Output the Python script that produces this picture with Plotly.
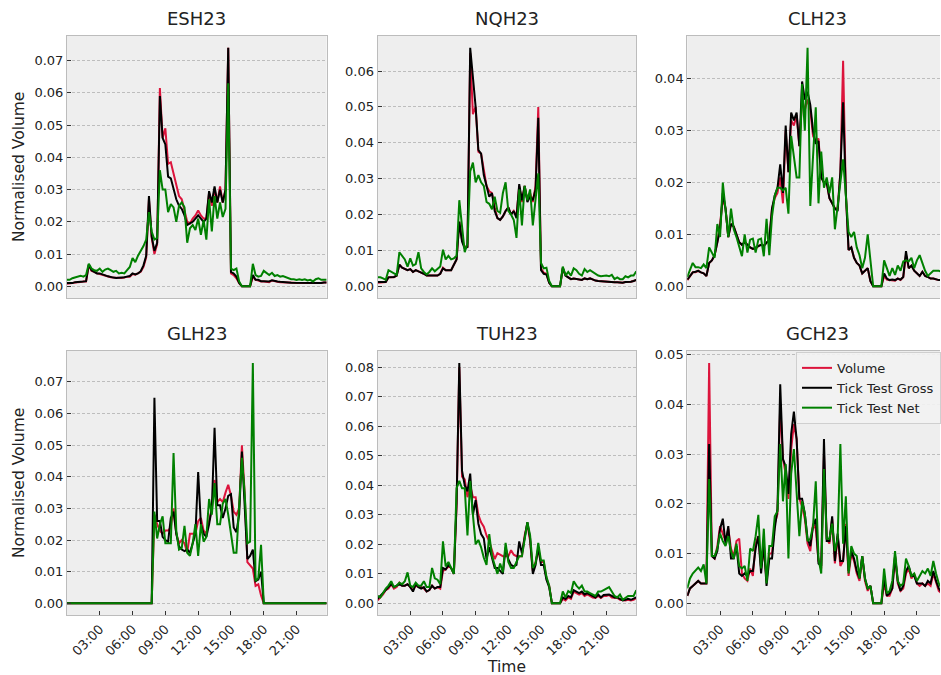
import pandas as pd
import plotly.graph_objects as go

# ---------------- data (15-minute bins, 00:00 .. 23:45) ----------------
times = pd.date_range("2023-01-02 00:00", periods=96, freq="15min")
tick_labels = ["03:00", "06:00", "09:00", "12:00", "15:00", "18:00", "21:00"]
contracts = ["ESH23", "NQH23", "CLH23", "GLH23", "TUH23", "GCH23"]
series_names = ["Volume", "Tick Test Gross", "Tick Test Net"]

ESH_volume = [.0008,.0008,.001,.0012,.0012,.0013,.0015,.0015,
              .0065,.0048,.0045,.004,.0038,.0035,.0033,.003,
              .0028,.0027,.0026,.0025,.0026,.0027,.003,.003,
              .0038,.0036,.004,.0045,.006,.009,.027,.015,
              .010,.013,.0615,.046,.049,.038,.0385,.035,
              .031,.028,.027,.023,.020,.0195,.021,.022,
              .0235,.022,.021,.021,.029,.025,.030,.026,
              .031,.026,.030,.074,.004,.0035,.0025,.001,
              0,0,0,0,.003,.002,.0018,.0015,
              .0015,.0013,.0013,.0018,.0015,.0014,.0013,.0013,
              .0012,.0012,.0011,.0011,.001,.001,.001,.0009,
              .0009,.0009,.0009,.0009,.001,.001,.0012,.0012]
ESH_gross = [.001,.001,.001,.0013,.0013,.0014,.0015,.0016,
             .0068,.005,.0045,.004,.004,.0036,.0034,.0031,
             .0028,.0027,.0026,.0026,.0027,.0028,.003,.0032,
             .004,.0037,.004,.0047,.0065,.0095,.028,.0155,
             .011,.0135,.059,.046,.044,.034,.0335,.030,
             .027,.025,.024,.022,.019,.0195,.020,.021,
             .022,.021,.020,.021,.0295,.026,.031,.026,
             .030,.026,.030,.074,.0045,.004,.003,.001,
             0,0,0,0,.0035,.002,.002,.0016,
             .0016,.0015,.0015,.0019,.0016,.0015,.0014,.0014,
             .0012,.0012,.0011,.0011,.001,.001,.001,.0009,
             .0009,.0009,.0009,.0009,.001,.001,.0012,.0012]
ESH_net = [.002,.002,.0025,.0028,.003,.0033,.003,.0035,
           .007,.0055,.005,.0048,.0055,.0045,.0052,.0055,
           .005,.0045,.0048,.004,.0042,.004,.005,.006,
           .0088,.0075,.0095,.011,.0125,.0145,.023,.017,
           .0145,.015,.036,.030,.030,.023,.0255,.0245,
           .020,.025,.026,.0245,.0135,.018,.019,.0175,
           .021,.016,.0205,.0145,.027,.017,.028,.021,
           .026,.0215,.024,.063,.0055,.005,.0055,.0015,
           0,0,0,0,.007,.0035,.003,.0032,
           .0048,.004,.0035,.0042,.0032,.0035,.003,.0032,
           .0028,.0025,.0022,.0022,.002,.0022,.002,.0022,
           .0018,.002,.0015,.0022,.0025,.002,.002,.002]

NQH_volume = [.001,.001,.001,.0012,.0025,.0025,.0025,.003,
              .006,.0052,.0048,.0045,.0048,.004,.0045,.0042,
              .0038,.0035,.003,.003,.0028,.003,.003,.0035,
              .0052,.0045,.0045,.0045,.006,.0075,.018,.013,
              .011,.011,.065,.048,.050,.0375,.037,.032,
              .028,.0265,.026,.022,.019,.0185,.0195,.021,
              .022,.020,.021,.0195,.028,.0235,.028,.024,
              .026,.0235,.028,.050,.005,.0038,.0035,.001,
              0,0,0,0,.005,.003,.0025,.002,
              .0022,.002,.0018,.0018,.0022,.002,.0022,.0018,
              .0016,.0015,.0014,.0014,.0013,.0012,.0012,.0011,
              .0011,.001,.001,.0012,.0012,.0013,.0015,.0018]
NQH_gross = [.0012,.0012,.0012,.0012,.0025,.0025,.0026,.003,
             .006,.0052,.0048,.0045,.0048,.004,.0045,.0042,
             .0038,.0035,.003,.003,.0028,.003,.003,.0035,
             .005,.0045,.0045,.0045,.006,.0075,.018,.0125,
             .0105,.011,.0665,.058,.050,.038,.037,.031,
             .028,.025,.026,.021,.019,.0185,.0195,.021,
             .022,.020,.021,.019,.0285,.024,.028,.0235,
             .025,.024,.027,.047,.0045,.0035,.0033,.001,
             0,0,0,0,.0052,.003,.0025,.002,
             .0022,.002,.0018,.0018,.0022,.002,.0022,.0018,
             .0016,.0015,.0014,.0014,.0013,.0012,.0012,.0011,
             .0011,.001,.001,.0012,.0012,.0013,.0015,.0018]
NQH_net = [.0025,.0025,.0022,.0018,.0045,.004,.0035,.0032,
           .0095,.0085,.0075,.0055,.0078,.0058,.0062,.0095,
           .005,.004,.0033,.004,.005,.0042,.005,.0055,
           .0102,.0075,.0085,.0075,.0078,.0085,.024,.016,
           .0095,.012,.032,.0345,.029,.031,.029,.028,
           .0235,.023,.0215,.025,.021,.0205,.026,.029,
           .021,.020,.0185,.0135,.027,.017,.028,.024,
           .027,.017,.025,.0315,.0065,.005,.0052,.0015,
           0,0,0,0,.0055,.003,.004,.003,
           .005,.0045,.0035,.003,.0048,.004,.0045,.004,
           .0035,.003,.0028,.003,.003,.0028,.0032,.002,
           .0025,.002,.002,.0028,.0025,.003,.003,.0042]

CLH_volume = [.0012,.002,.0027,.0027,.003,.0027,.0025,.002,
              .0045,.005,.006,.0085,.012,.017,.015,.0095,
              .012,.0115,.010,.0085,.008,.0085,.008,.0075,
              .0072,.0072,.0078,.008,.0078,.0085,.009,.015,
              .017,.018,.021,.016,.030,.022,.032,.031,
              .033,.027,.036,.034,.036,.034,.029,.028,
              .0285,.021,.020,.020,.017,.016,.015,.015,
              .022,.0435,.018,.007,.0075,.0055,.0045,.004,
              .0025,.003,.0035,.001,0,0,0,0,
              .002,.0013,.0012,.0012,.0011,.0015,.0012,.0018,
              .006,.0035,.004,.003,.0025,.002,.0028,.002,
              .0018,.0015,.0015,.0013,.0012,.0012,.0011,.0012]
CLH_gross = [.0013,.002,.0027,.0028,.003,.0027,.0025,.002,
             .0045,.005,.006,.0085,.011,.018,.015,.0095,
             .012,.0115,.010,.0085,.008,.0085,.008,.0075,
             .0072,.0075,.0078,.008,.0078,.0085,.009,.015,
             .0175,.019,.0235,.018,.031,.022,.0335,.032,
             .0335,.027,.0395,.036,.0375,.035,.030,.0275,
             .028,.021,.020,.020,.017,.016,.015,.0145,
             .022,.0355,.018,.007,.0075,.0055,.0045,.004,
             .0025,.003,.0035,.001,0,0,0,0,
             .0025,.0015,.0012,.0013,.0012,.0015,.0013,.0018,
             .0068,.0035,.004,.003,.0025,.002,.0028,.002,
             .0018,.0015,.0015,.0013,.0012,.0012,.0011,.0012]
CLH_net = [.0018,.003,.0045,.0037,.0037,.0035,.0042,.0035,
           .0075,.0065,.0055,.012,.0095,.020,.015,.0095,
           .015,.011,.0095,.0075,.0058,.010,.0065,.009,
           .0092,.0065,.009,.0092,.0058,.013,.006,.0135,
           .0175,.019,.019,.0185,.019,.014,.029,.025,
           .021,.021,.039,.030,.046,.0155,.025,.0345,
           .016,.026,.019,.021,.018,.021,.011,.016,
           .020,.0245,.018,.0105,.0095,.0105,.0075,.006,
           .0035,.0055,.010,.0055,0,0,0,0,
           .005,.0035,.002,.0035,.0022,.004,.003,.0048,
           .005,.0048,.0055,.0035,.005,.006,.0045,.003,
           .002,.0025,.003,.003,.003,.0028,.0025,.0025]

GLH_volume = [0] * 32 + [
              .028,.025,.023,.022,.023,.023,.024,.030,
              .022,.019,.020,.019,.016,.022,.022,.022,
              .026,.027,.023,.022,.026,.030,.039,.032,
              .033,.032,.035,.0375,.034,.029,.028,.030,
              .050,.035,.013,.012,.011,.0055,.006,.0025] + [0] * 24
GLH_gross = [0] * 32 + [
             .065,.026,.026,.021,.020,.0195,.027,.029,
             .022,.018,.017,.0165,.017,.016,.019,.022,
             .0415,.025,.022,.021,.025,.030,.0555,.031,
             .031,.027,.030,.034,.0345,.024,.0225,.028,
             .048,.033,.014,.015,.017,.007,.0075,.010] + [0] * 24
GLH_net = [0] * 32 + [
           .029,.0205,.025,.0275,.019,.019,.019,.0475,
           .023,.017,.0175,.0245,.016,.015,.019,.025,
           .015,.025,.0195,.021,.033,.028,.038,.025,
           .025,.0315,.033,.028,.022,.016,.016,.030,
           .046,.035,.019,.0195,.076,.007,.008,.0185] + [0] * 24

TUH_volume = [.001,.002,.003,.0045,.005,.0065,.005,.0055,
              .007,.006,.006,.0065,.0055,.0045,.006,.0055,
              .0055,.005,.004,.0045,.006,.005,.0055,.005,
              .011,.0115,.0125,.012,.010,.033,.080,.043,
              .042,.036,.040,.036,.036,.030,.0275,.026,
              .023,.021,.018,.015,.017,.0165,.016,.016,
              .016,.018,.0165,.016,.016,.016,.023,.027,
              .021,.011,.014,.018,.014,.014,.0085,.006,
              0,0,0,0,.0015,.001,.002,.0015,
              .004,.0035,.003,.0035,.0025,.003,.0025,.002,
              .0018,.0025,.0018,.0025,.0025,.0028,.002,.0018,
              .0018,.0012,.001,.001,.0012,.001,.0012,.0018]
TUH_gross = [.0015,.0025,.0035,.0045,.0055,.0065,.0055,.006,
             .0065,.006,.006,.0065,.0055,.004,.0065,.0055,
             .005,.0055,.004,.0045,.006,.005,.0055,.0055,
             .012,.0115,.013,.012,.010,.034,.0815,.045,
             .040,.038,.044,.030,.035,.027,.0235,.022,
             .015,.019,.015,.012,.012,.011,.010,.019,
             .015,.013,.0125,.013,.021,.017,.022,.0275,
             .022,.010,.013,.019,.013,.013,.008,.0055,
             0,0,0,0,.002,.0015,.0025,.002,
             .0045,.004,.0035,.004,.003,.0035,.003,.0025,
             .002,.003,.002,.0028,.003,.003,.0025,.002,
             .002,.0015,.001,.0012,.0015,.0012,.0015,.002]
TUH_net = [.0025,.002,.0035,.005,.006,.0075,.0055,.006,
           .007,.0065,.0075,.0105,.006,.0055,.007,.006,
           .006,.0075,.0055,.0055,.012,.0085,.008,.0065,
           .021,.0125,.014,.012,.010,.039,.0415,.039,
           .039,.023,.0415,.030,.020,.0215,.019,.0155,
           .013,.0235,.016,.013,.010,.0135,.0105,.0205,
           .014,.012,.012,.014,.016,.016,.022,.0275,
           .023,.012,.0135,.0205,.0145,.0145,.009,.006,
           0,0,0,0,.004,.002,.0042,.0035,
           .0075,.006,.005,.006,.004,.004,.0035,.003,
           .0025,.004,.004,.0045,.005,.0055,.004,.0025,
           .002,.003,.0012,.002,.0025,.0025,.0025,.0045]

GCH_volume = [.0015,.003,.0035,.004,.0045,.004,.004,.004,
              .0483,.0095,.009,.0115,.0155,.014,.0125,.015,
              .011,.0095,.0125,.013,.006,.005,.0045,.007,
              .0055,.012,.0135,.007,.011,.0045,.010,.010,
              .016,.018,.040,.029,.026,.021,.031,.036,
              .033,.021,.0195,.017,.012,.0105,.016,.015,
              .0085,.007,.030,.013,.012,.017,.008,.0135,
              .0075,.0085,.016,.0055,.010,.0085,.006,.0045,
              .0095,.0045,.0025,.0035,0,0,0,0,
              .004,.0015,.0015,.003,.0095,.004,.0025,.003,
              .006,.007,.005,.006,.004,.0035,.004,.0035,
              .004,.0035,.006,.004,.0025,.002,.002,.002]
GCH_gross = [.0015,.003,.0035,.004,.0045,.004,.004,.004,
             .032,.0095,.009,.0105,.015,.017,.012,.0155,
             .009,.009,.0115,.006,.0055,.006,.0055,.0065,
             .0065,.011,.0135,.006,.012,.0035,.009,.009,
             .015,.019,.044,.029,.0275,.022,.034,.0385,
             .033,.021,.021,.018,.013,.0115,.0155,.017,
             .008,.0075,.033,.0125,.0125,.0175,.0085,.014,
             .0085,.0085,.0155,.0065,.0105,.009,.0065,.005,
             .0095,.005,.003,.0035,0,0,0,0,
             .005,.0015,.002,.003,.0095,.0045,.0025,.0035,
             .0065,.0075,.0055,.0055,.004,.004,.004,.0035,
             .0045,.004,.0065,.0045,.003,.0022,.002,.002]
GCH_net = [.003,.005,.006,.0065,.0072,.0065,.0078,.004,
           .025,.0095,.0095,.011,.014,.0125,.0115,.0135,
           .0105,.009,.012,.0075,.007,.0075,.0045,.011,
           .0105,.0135,.0178,.007,.015,.004,.0115,.0115,
           .0175,.0185,.032,.0205,.028,.009,.026,.031,
           .021,.0135,.0205,.018,.0125,.013,.0155,.0245,
           .009,.006,.027,.013,.013,.016,.0105,.013,
           .032,.012,.0215,.006,.0115,.010,.0095,.005,
           .0095,.005,.003,.0035,0,0,0,0,
           .007,.002,.0025,.0045,.0105,.0045,.0035,.004,
           .009,.0075,.0055,.006,.0045,.0055,.0065,.006,
           .007,.0055,.0085,.006,.004,.003,.003,.003]

panel_data = {
    "ESH23": (ESH_volume, ESH_gross, ESH_net),
    "NQH23": (NQH_volume, NQH_gross, NQH_net),
    "CLH23": (CLH_volume, CLH_gross, CLH_net),
    "GLH23": (GLH_volume, GLH_gross, GLH_net),
    "TUH23": (TUH_volume, TUH_gross, TUH_net),
    "GCH23": (GCH_volume, GCH_gross, GCH_net),
}

# ---------------- styling / layout ----------------
W, H = 941, 675
colors = ["#DC143C", "#000000", "#008000"]
FONT = "DejaVu Sans"
TXT = "#222222"
col_px = [(67, 327), (378, 637), (688, 948)]   # last column is clipped by the canvas
row_px = [(32, 296), (349, 615)]

fig = go.Figure()
t0, t1 = times[0], times[-1]
tickvals = [pd.Timestamp("2023-01-02 " + s) for s in tick_labels]

for k, name in enumerate(contracts):
    r, c = divmod(k, 3)
    ax = k + 1
    xa = "x" if ax == 1 else f"x{ax}"
    ya = "y" if ax == 1 else f"y{ax}"
    vals = panel_data[name]
    for s, (sname, col) in enumerate(zip(series_names, colors)):
        fig.add_trace(go.Scatter(
            x=times, y=vals[s], mode="lines", name=sname,
            line=dict(color=col, width=2),
            xaxis=xa, yaxis=ya,
            showlegend=(name == "GCH23"), legendgroup=sname))

    x0p, x1p = col_px[c]
    vis_right = min(x1p, W)
    dom_x = [x0p / W, vis_right / W]
    dom_y = [1 - row_px[r][1] / H, 1 - row_px[r][0] / H]
    frac = (vis_right - x0p) / (x1p - x0p)
    xr_end = t0 + (t1 - t0) * frac

    ymax = max(max(v) for v in vals)
    ymin = min(min(v) for v in vals)
    span = ymax - ymin
    yr = [ymin - 0.05 * span, ymax + 0.05 * span]

    bottom = (r == 1)
    xkey = "xaxis" if ax == 1 else f"xaxis{ax}"
    ykey = "yaxis" if ax == 1 else f"yaxis{ax}"
    fig.layout[xkey] = dict(
        domain=dom_x, anchor=ya, type="date",
        range=[t0, xr_end], showgrid=False, zeroline=False,
        showline=True, linecolor="#bcbcbc", linewidth=1, mirror=True,
        tickmode="array", tickvals=tickvals if bottom else [],
        ticktext=tick_labels if bottom else [],
        ticks="inside" if bottom else "", ticklen=4, tickcolor="#333333",
        showticklabels=bottom, tickangle=-45,
        tickfont=dict(family=FONT, size=13, color=TXT))
    fig.layout[ykey] = dict(
        domain=dom_y, anchor=xa, range=yr,
        dtick=0.01, tick0=0, tickformat=".2f",
        showgrid=True, gridcolor="#bdbdbd", griddash="3px,2px", gridwidth=0.6,
        zeroline=False,
        showline=True, linecolor="#bcbcbc", linewidth=1, mirror=(c != 2),
        ticks="inside", ticklen=4, tickcolor="#333333",
        tickfont=dict(family=FONT, size=13, color=TXT))

    fig.add_annotation(
        text=name, xref="paper", yref="paper",
        x=((x0p + x1p) / 2) / W, y=dom_y[1], xanchor="center", yanchor="bottom",
        yshift=5, showarrow=False, font=dict(family=FONT, size=18, color=TXT))

for r in range(2):
    cy = 1 - ((row_px[r][0] + row_px[r][1]) / 2) / H
    fig.add_annotation(
        text="Normalised Volume", xref="paper", yref="paper",
        x=19 / W, y=cy, xanchor="center", yanchor="middle", textangle=-90,
        showarrow=False, font=dict(family=FONT, size=15.5, color=TXT))

fig.add_annotation(
    text="Time", xref="paper", yref="paper",
    x=((col_px[1][0] + col_px[1][1]) / 2) / W, y=1 - 667 / H,
    xanchor="center", yanchor="middle", showarrow=False,
    font=dict(family=FONT, size=15.5, color=TXT))

fig.update_layout(
    width=W, height=H, margin=dict(l=0, r=0, t=0, b=0),
    paper_bgcolor="white", plot_bgcolor="#eeeeee",
    font=dict(family=FONT, size=13, color=TXT),
    legend=dict(x=797 / W, y=1 - 350 / H, xanchor="left", yanchor="top",
                bgcolor="rgba(242,242,242,0.9)", bordercolor="#cfcfcf", borderwidth=1,
                font=dict(family=FONT, size=13, color=TXT),
                tracegroupgap=0, itemwidth=30),
)

fig.write_html("out.html")
